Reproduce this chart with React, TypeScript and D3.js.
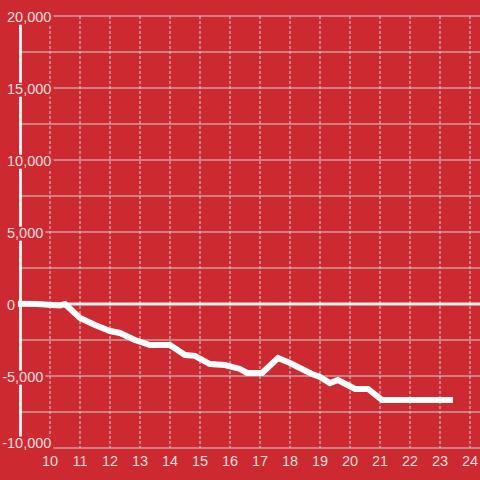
import React from "react";
import * as d3 from "d3";

// hour of day (decimal) and running value
const hours = [
  8.93, 9.57, 10.33, 10.5, 11, 11.5, 12, 12.33, 12.83, 13.33, 14, 14.5, 14.83,
  15.33, 15.83, 16.33, 16.57, 17.07, 17.6, 18, 18.33, 18.73, 19, 19.33, 19.6,
  20.17, 20.6, 21.07, 23.43,
];
const values = [
  20, 0, -100, 0, -970, -1460, -1875, -2010, -2500, -2850, -2850, -3540, -3600,
  -4170, -4240, -4510, -4790, -4790, -3750, -4100, -4440, -4860, -5070, -5490,
  -5280, -5900, -5900, -6670, -6670,
];
const xTicks = [10, 11, 12, 13, 14, 15, 16, 17, 18, 19, 20, 21, 22, 23, 24];
const yTicks = [20000, 15000, 10000, 5000, 0, -5000, -10000];
const yGrid = [
  20000, 17500, 15000, 12500, 10000, 7500, 5000, 2500, -2500, -5000, -7500,
  -10000,
];

const W = 480;
const H = 480;
const BG = "#cc2a30";
const TXT = "#f4dede";
const GRID = "#d2d2d2";
const FS = 14.5;

// rough Liberation Sans advance widths
const textWidth = (s: string) =>
  s.split("").reduce((w, c) => w + (c === "," ? 0.278 : c === "-" ? 0.333 : 0.556) * FS, 0);

export default function App() {
  const x = d3.scaleLinear().domain([10, 24]).range([50, 470]);
  const y = d3.scaleLinear().domain([-10000, 20000]).range([448, 16]);
  const fmt = d3.format(",");

  const line = d3
    .line<number>()
    .x((_, i) => x(hours[i]))
    .y((d) => y(d));

  return (
    <svg
      width={W}
      height={H}
      style={{ position: "fixed", left: 0, top: 0, background: BG }}
      fontFamily="'Liberation Sans', Arial, sans-serif"
    >
      <rect width={W} height={H} fill={BG} />
      {/* vertical dashed grid */}
      {xTicks.map((t) => (
        <line
          key={"vx" + t}
          x1={x(t)}
          x2={x(t)}
          y1={y(20000)}
          y2={y(-10000)}
          stroke={GRID}
          strokeWidth={1}
          strokeDasharray="3,2"
        />
      ))}
      {/* horizontal grid */}
      {yGrid.map((t) => (
        <line
          key={"hy" + t}
          x1={21}
          x2={W}
          y1={y(t)}
          y2={y(t)}
          stroke={GRID}
          strokeWidth={1}
        />
      ))}
      {/* zero line */}
      <line x1={21} x2={W} y1={y(0)} y2={y(0)} stroke="#f4f0f0" strokeWidth={3} />
      {/* y axis line */}
      <line x1={20.5} x2={20.5} y1={16} y2={448} stroke="#f0eaea" strokeWidth={3} />
      {/* data line */}
      <path
        d={line(values) ?? ""}
        fill="none"
        stroke="#ffffff"
        strokeWidth={6}
        strokeLinejoin="miter"
      />
      {/* y labels with background boxes */}
      {yTicks.map((t) => {
        const c = Math.min(y(t) + 0.7, 442.5);
        const body = fmt(Math.abs(t));
        return (
          <g key={"yl" + t}>
            <rect x={1} y={c - 6} width={6 + textWidth(body) + 2} height={14} fill={BG} />
            <text x={7} y={c} dy="0.35em" fontSize={FS} fill={TXT}>
              {body}
            </text>
            {t < 0 && (
              <text x={7} y={c} dy="0.35em" textAnchor="end" fontSize={FS} fill={TXT}>
                -
              </text>
            )}
          </g>
        );
      })}
      {/* x labels */}
      {xTicks.map((t) => (
        <text
          key={"xl" + t}
          x={x(t)}
          y={466}
          textAnchor="middle"
          fontSize={FS}
          fill={TXT}
        >
          {t}
        </text>
      ))}
    </svg>
  );
}
